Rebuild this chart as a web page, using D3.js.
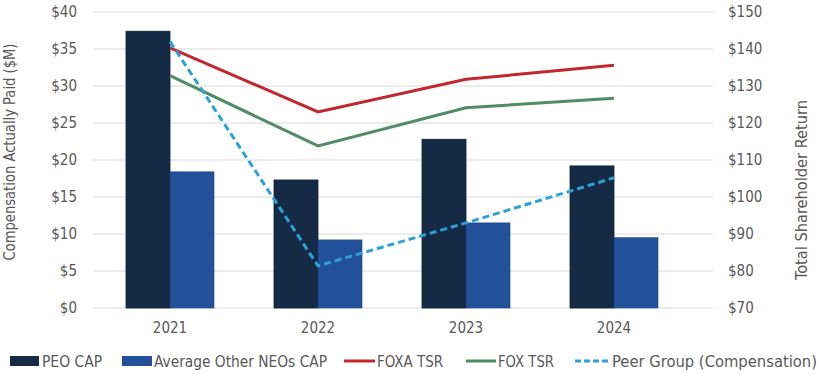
<!DOCTYPE html>
<html>
<head>
<meta charset="utf-8">
<script src="https://cdn.jsdelivr.net/npm/d3@7"></script>
<style>
  body { margin: 0; background: #fff; }
  text { font-family: "DejaVu Sans Condensed", "Liberation Sans Narrow", Roboto, sans-serif; fill: #595959; }
</style>
</head>
<body>
<svg id="main_svg" width="820" height="375"></svg>
<script>
// chart data
const years = ['2021', '2022', '2023', '2024'];
const peoCap = [37.4, 17.3, 22.8, 19.2];
const neoCap = [18.4, 9.2, 11.5, 9.5];
const foxaTsr = [140.3, 123.0, 131.8, 135.6];
const foxTsr = [132.8, 113.8, 124.1, 126.7];
const peerTsr = [142.0, 81.4, 93.0, 105.2];
const leftTicks = [0, 5, 10, 15, 20, 25, 30, 35, 40];
const rightTicks = [70, 80, 90, 100, 110, 120, 130, 140, 150];

const colors = {
  peo: '#152b45',
  neo: '#22519a',
  foxa: '#c1272d',
  fox: '#4f8c67',
  peer: '#2ba1d9'
};

const svg = d3.select('#main_svg');

const x = d3.scaleBand().domain(years).range([96, 688]).paddingInner(0).paddingOuter(0);
const yL = d3.scaleLinear().domain([0, 40]).range([308, 12]);
const yR = d3.scaleLinear().domain([70, 150]).range([308, 12]);
const barW = 44;

// gridlines
svg.append('g')
  .selectAll('line')
  .data(leftTicks)
  .join('line')
  .attr('x1', 93)
  .attr('x2', 713)
  .attr('y1', d => yL(d))
  .attr('y2', d => yL(d))
  .attr('stroke', '#d9d9d9')
  .attr('stroke-width', 1);

// left axis
const axL = svg.append('g')
  .attr('transform', 'translate(93,0)')
  .call(d3.axisLeft(yL).tickValues(leftTicks).tickSize(0).tickPadding(16).tickFormat(d => '$' + d));
axL.select('.domain').remove();
axL.selectAll('text').style('font-size', '15px').style('fill', '#595959');

// right axis
const axR = svg.append('g')
  .attr('transform', 'translate(713,0)')
  .call(d3.axisRight(yR).tickValues(rightTicks).tickSize(0).tickPadding(15).tickFormat(d => '$' + d));
axR.select('.domain').remove();
axR.selectAll('text').style('font-size', '15px').style('fill', '#595959');

// x axis labels
const axX = svg.append('g')
  .attr('transform', 'translate(0,308)')
  .call(d3.axisBottom(x).tickSize(0).tickPadding(14));
axX.select('.domain').remove();
axX.selectAll('text').style('font-size', '15px').style('fill', '#595959');

// bars
svg.append('g')
  .selectAll('rect')
  .data(peoCap)
  .join('rect')
  .attr('x', (d, i) => x(years[i]) + x.bandwidth() / 2 - barW)
  .attr('y', d => yL(d))
  .attr('width', barW)
  .attr('height', d => yL(0) - yL(d))
  .attr('fill', colors.peo)
  .attr('stroke', '#0e1f33')
  .attr('stroke-width', 0.8);

svg.append('g')
  .selectAll('rect')
  .data(neoCap)
  .join('rect')
  .attr('x', (d, i) => x(years[i]) + x.bandwidth() / 2)
  .attr('y', d => yL(d))
  .attr('width', barW)
  .attr('height', d => yL(0) - yL(d))
  .attr('fill', colors.neo)
  .attr('stroke', '#1d4686')
  .attr('stroke-width', 0.6);

// lines
const lineGen = d3.line()
  .x((d, i) => x(years[i]) + x.bandwidth() / 2)
  .y(d => yR(d));

svg.append('path').datum(foxaTsr)
  .attr('d', lineGen).attr('fill', 'none')
  .attr('stroke', colors.foxa).attr('stroke-width', 3);
svg.append('path').datum(foxTsr)
  .attr('d', lineGen).attr('fill', 'none')
  .attr('stroke', colors.fox).attr('stroke-width', 3);
svg.append('path').datum(peerTsr)
  .attr('d', lineGen).attr('fill', 'none')
  .attr('stroke', colors.peer).attr('stroke-width', 3)
  .attr('stroke-dasharray', '7,4');

// axis titles
svg.append('text')
  .attr('transform', 'translate(15,152) rotate(-90)')
  .attr('text-anchor', 'middle')
  .attr('textLength', 217)
  .attr('lengthAdjust', 'spacingAndGlyphs')
  .style('font-size', '15px')
  .text('Compensation Actually Paid ($M)');

svg.append('text')
  .attr('transform', 'translate(807,190) rotate(-90)')
  .attr('text-anchor', 'middle')
  .attr('textLength', 180)
  .attr('lengthAdjust', 'spacingAndGlyphs')
  .style('font-size', '15px')
  .text('Total Shareholder Return');

// legend
const legend = [
  { label: 'PEO CAP', type: 'rect', color: colors.peo, x: 10, w: 29, tx: 42, tw: 60 },
  { label: 'Average Other NEOs CAP', type: 'rect', color: colors.neo, x: 122, w: 30, tx: 154, tw: 173 },
  { label: 'FOXA TSR', type: 'line', color: colors.foxa, x: 344, w: 31, tx: 377, tw: 66 },
  { label: 'FOX TSR', type: 'line', color: colors.fox, x: 466, w: 30, tx: 498, tw: 56 },
  { label: 'Peer Group (Compensation)', type: 'dash', color: colors.peer, x: 575, w: 34, tx: 612, tw: 205 }
];
const ly = 361;
const lg = svg.append('g');
legend.forEach(function(d) {
  if (d.type === 'rect') {
    lg.append('rect').attr('x', d.x).attr('y', ly - 5).attr('width', d.w).attr('height', 10).attr('fill', d.color);
  } else {
    lg.append('line').attr('x1', d.x).attr('x2', d.x + d.w).attr('y1', ly).attr('y2', ly)
      .attr('stroke', d.color).attr('stroke-width', 3)
      .attr('stroke-dasharray', d.type === 'dash' ? '6,3' : null);
  }
  lg.append('text').attr('x', d.tx).attr('y', ly).attr('dy', '0.36em')
    .attr('textLength', d.tw)
    .attr('lengthAdjust', 'spacingAndGlyphs')
    .style('font-size', '16px').text(d.label);
});
</script>
</body>
</html>
